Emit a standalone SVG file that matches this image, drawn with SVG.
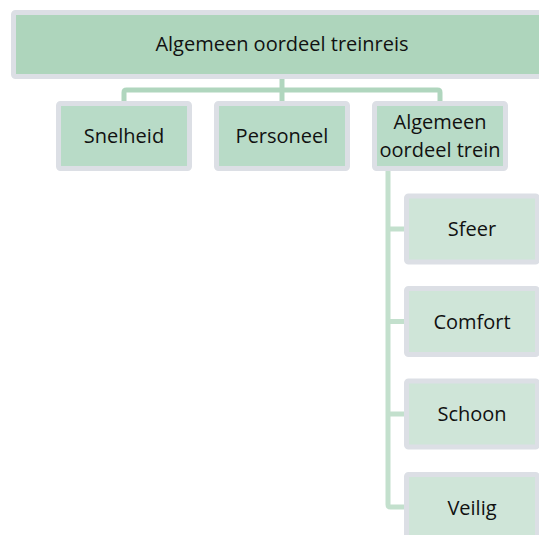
<svg xmlns="http://www.w3.org/2000/svg" width="539" height="535" viewBox="0 0 539 535">
<style>
.box{stroke:#dcdfe5;stroke-width:5;}
.l0{fill:#aed5bc;}
.l1{fill:#b8dbc7;}
.l2{fill:#cfe5d8;}
.t{font-family:"Open Sans","Noto Sans",sans-serif;font-size:20px;fill:#111;text-anchor:middle;}
.c1{fill:none;stroke:#b0d6be;stroke-width:5;stroke-linejoin:round;}
.c2{fill:none;stroke:#c3e0cd;stroke-width:5;stroke-linejoin:round;}
</style>
<rect width="539" height="535" fill="#ffffff"/>
<g id="connectors">
<path class="c1" d="M282,79 V90"/>
<path class="c1" d="M124,101 V92.5 Q124,90 126.5,90 H437.5 Q440,90 440,92.5 V101"/>
<path class="c1" d="M282,90 V101"/>
<path class="c2" d="M388,171 V504.5 Q388,507 390.5,507 H404"/>
<path class="c2" d="M388,229 H404 M388,321.5 H404 M388,414 H404"/>
</g>
<g id="root">
<rect class="box l0" x="13.5" y="12.5" width="538" height="64" rx="2"/>
<text class="t" x="282" y="51">Algemeen oordeel treinreis</text>
</g>
<g id="snelheid">
<rect class="box l1" x="58.5" y="103.5" width="131" height="65" rx="2"/>
<text class="t" x="124" y="143">Snelheid</text>
</g>
<g id="personeel">
<rect class="box l1" x="216.5" y="103.5" width="131" height="65" rx="2"/>
<text class="t" x="282" y="143">Personeel</text>
</g>
<g id="algemeen-trein">
<rect class="box l1" x="374.5" y="103.5" width="131" height="65" rx="2"/>
<text class="t" x="440" y="129">Algemeen</text>
<text class="t" x="440" y="156.5">oordeel trein</text>
</g>
<g id="sfeer">
<rect class="box l2" x="406.5" y="196" width="131" height="66" rx="2"/>
<text class="t" x="472" y="236">Sfeer</text>
</g>
<g id="comfort">
<rect class="box l2" x="406.5" y="288.5" width="131" height="66" rx="2"/>
<text class="t" x="472" y="328.5">Comfort</text>
</g>
<g id="schoon">
<rect class="box l2" x="406.5" y="381" width="131" height="66" rx="2"/>
<text class="t" x="472" y="421">Schoon</text>
</g>
<g id="veilig">
<rect class="box l2" x="406.5" y="474.5" width="131" height="66" rx="2"/>
<text class="t" x="472" y="514.5">Veilig</text>
</g>
</svg>
